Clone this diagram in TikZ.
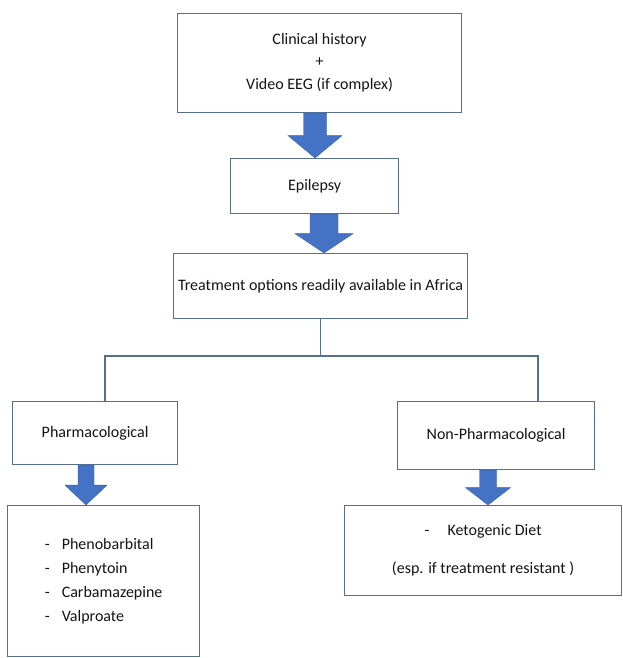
\documentclass[tikz,border=0pt]{standalone}
\usepackage{fontspec}
\setmainfont{Carlito}
\usetikzlibrary{calc}
\definecolor{arrowblue}{RGB}{68,114,196}
\definecolor{arrowedge}{RGB}{56,96,170}
\definecolor{boxedge}{RGB}{84,110,150}
\definecolor{txt}{RGB}{20,20,20}
\tikzset{
  box/.style={draw=boxedge, line width=1.2pt, rectangle, anchor=north west, inner sep=0pt,
    align=center, text=txt, font=\fontsize{16}{23}\selectfont},
  link/.style={draw=boxedge, line width=1.2pt},
  blockarrow/.style={fill=arrowblue, draw=arrowedge, line width=0.4pt, line join=miter}
}
% #1 source, #2 target, #3 x (pt), #4 shaft half width, #5 head half width
\newcommand\blockarr[5]{%
  \path[blockarrow] let \p1=(#1.south), \p2=(#2.north), \n1={(\y1+\y2)/2} in
    (#3pt-#4pt,\y1) -- (#3pt+#4pt,\y1) -- (#3pt+#4pt,\n1) -- (#3pt+#5pt,\n1) --
    (#3pt,\y2) -- (#3pt-#5pt,\n1) -- (#3pt-#4pt,\n1) -- cycle;}
\begin{document}
\begin{tikzpicture}[x=1pt,y=-1pt]
\useasboundingbox[fill=white] (0,0) rectangle (623,658);

\node[box, minimum width=284pt, minimum height=99pt] (top) at (177,13)
  {\raisebox{-1pt}{Clinical history}\\+\\Video EEG (if complex)};
\node[box, minimum width=168pt, minimum height=55pt] (epi) at (230,158) {Epilepsy};
\node[box, minimum width=294pt, minimum height=65pt] (treat) at (173,253)
  {Treatment options readily available in Africa};
\node[box, minimum width=165pt, minimum height=63pt] (pharm) at (12,401) {Pharmacological};
\node[box, minimum width=197pt, minimum height=68pt] (nonph) at (397,401)
  {\raisebox{-3pt}{Non-Pharmacological}};
\node[box, align=left, minimum width=192pt, minimum height=151pt] (drug) at (7,505)
  {\makebox[17pt][l]{-}Phenobarbital\\[1pt]
   \makebox[17pt][l]{-}Phenytoin\\[1pt]
   \makebox[17pt][l]{-}Carbamazepine\\[1pt]
   \makebox[17pt][l]{-}Valproate};
\node[box, minimum width=277pt, minimum height=90pt] (keto) at (344,505)
  {\makebox[23pt][l]{-}Ketogenic Diet\\[15pt](esp. if treatment resistant )};

\blockarr{top}{epi}{315}{11.5}{27}
\blockarr{epi}{treat}{324}{14}{29}
\blockarr{pharm}{drug}{86}{8}{21}
\blockarr{nonph}{keto}{488}{8.5}{22.5}

\coordinate (jl) at (105,356);
\coordinate (jr) at (538,356);
\draw[link] (treat.south) -- (treat.south |- jl);
\draw[link] (jl |- pharm.north) -- (jl) -- (jr) -- (jr |- nonph.north);
\end{tikzpicture}
\end{document}
